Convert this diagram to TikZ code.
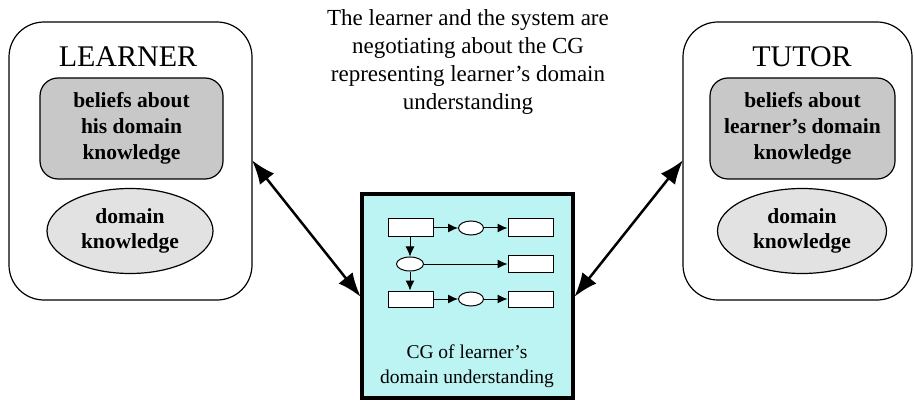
\documentclass[tikz,border=0pt]{standalone}
\usepackage{fontspec}
\setmainfont{Liberation Serif}
\usetikzlibrary{shapes.geometric, arrows.meta}
\usepackage{xcolor}

\begin{document}
\begin{tikzpicture}[x=1pt, y=-1pt,
    % Styles for the two agents and their contents
    agent/.style={draw, line width=1.2pt, rounded corners=35pt, inner sep=0pt},
    belief/.style={draw, fill=beliefgrey, line width=1.2pt, rounded corners=18pt, align=center, font=\fontsize{21.5}{26}\selectfont\bfseries},
    know/.style={draw, ellipse, fill=knowgrey, line width=1.2pt, inner sep=0pt, align=center, font=\fontsize{21.5}{25}\selectfont\bfseries},
    % Styles for the little conceptual graph
    concept/.style={draw, fill=white, line width=1pt, minimum width=45pt, inner sep=0pt},
    relation/.style={draw, ellipse, fill=white, line width=1pt, minimum width=25pt, minimum height=14pt, inner sep=0pt},
    small/.style={-{Latex[length=10pt, width=9pt]}, line width=1pt},
    bigarrow/.style={{Latex[length=24pt, width=18pt]}-{Latex[length=24pt, width=18pt]}, line width=2.5pt, shorten <=-1pt, shorten >=-1pt}]

        % Define colors for the fills
        \definecolor{beliefgrey}{RGB}{200,200,200}  % grey for beliefs
        \definecolor{knowgrey}{RGB}{226,226,226}    % light grey for knowledge
        \definecolor{cgcyan}{RGB}{188,244,244}      % light cyan for the CG box

        \useasboundingbox (0,0) rectangle (914,401);

        % Draw the learner box with its title
        \node[agent, minimum width=243pt, minimum height=278pt] (learner) at (130.5,161) {};
        \node[font=\fontsize{30}{30}\selectfont] (learnertitle) at (128,57) {LEARNER};

        % Beliefs and knowledge of the learner
        \node[belief, minimum width=183pt, minimum height=101pt] (lbelief) at (131.5,128.5) {beliefs about\\his domain\\knowledge};
        \node[know, minimum width=166pt, minimum height=85pt] (lknow) at (130,231) {domain\\knowledge};

        % Draw the tutor box with its title
        \node[agent, minimum width=229pt, minimum height=278pt] (tutor) at (797.5,161) {};
        \node[font=\fontsize{30}{30}\selectfont] (tutortitle) at (802,57) {TUTOR};

        % Beliefs and knowledge of the tutor
        \node[belief, minimum width=185pt, minimum height=101pt] (tbelief) at (802.5,128.5) {beliefs about\\learner's domain\\knowledge};
        \node[know, minimum width=169pt, minimum height=85pt] (tknow) at (802,231) {domain\\knowledge};

        % Text above the middle
        \node[align=center, font=\fontsize{23}{28}\selectfont] (note) at (468,62.5) {The learner and the system are\\negotiating about the CG\\representing learner’s domain\\understanding};

        % Draw the CG box in the middle
        \node[draw, fill=cgcyan, line width=4pt, minimum width=211pt, minimum height=204pt, inner sep=0pt] (cg) at (467.5,296) {};

        % First row of the graph
        \node[concept, minimum height=18pt] (c1) at (410.5,228) {};
        \node[relation] (r1) at (471,228) {};
        \node[concept, minimum height=18pt] (c2) at (530.5,228) {};

        % Second row of the graph
        \node[relation, minimum width=27pt] (r2) at (410,264) {};
        \node[concept, minimum height=17pt] (c3) at (530.5,264) {};

        % Third row of the graph
        \node[concept, minimum height=16pt] (c4) at (410.5,299) {};
        \node[relation] (r3) at (471,299) {};
        \node[concept, minimum height=16pt] (c5) at (530.5,299) {};

        % Arrows inside the graph
        \draw[small] (c1) -- (r1);
        \draw[small] (r1) -- (c2);
        \draw[small] (c1.south -| r2) -- (r2);
        \draw[small] (r2) -- (c3);
        \draw[small] (r2) -- (c4.north -| r2);
        \draw[small] (c4) -- (r3);
        \draw[small] (r3) -- (c5);

        % Caption of the CG box
        \node[align=center, font=\fontsize{19.5}{25}\selectfont] (cgcaption) at (467,366) {CG of learner's\\domain understanding};

        % Double arrows between the agents and the CG
        \draw[bigarrow] (learner.east) -- (cg.west);
        \draw[bigarrow] (cg.east) -- (tutor.west);

    \end{tikzpicture}
\end{document}
